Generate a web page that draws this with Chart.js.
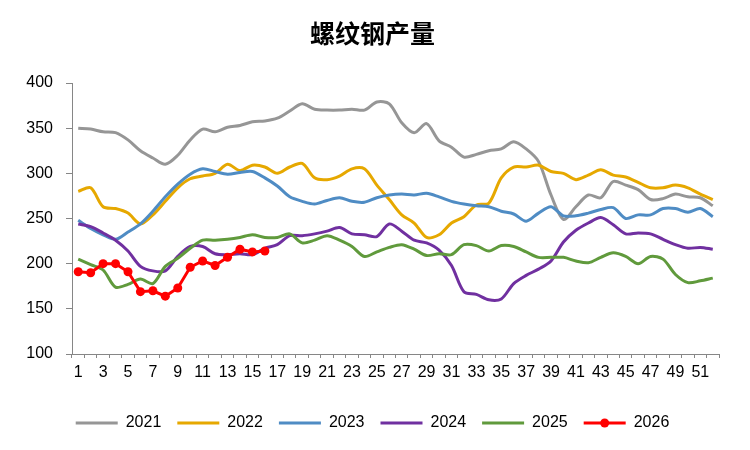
<!DOCTYPE html>
<html lang="zh">
<head>
  <meta charset="UTF-8">
  <title>螺纹钢产量</title>
  <script src="https://cdn.jsdelivr.net/npm/chart.js"></script>
  <style>
    html, body { margin: 0; padding: 0; background: #fff; }
    #wrap { width: 750px; height: 450px; }
  </style>
</head>
<body>
  <div id="wrap"><canvas id="chart" width="750" height="450"></canvas></div>
  <script>
    // 周次
    const weeks = [1, 2, 3, 4, 5, 6, 7, 8, 9, 10, 11, 12, 13, 14, 15, 16, 17, 18, 19, 20,
      21, 22, 23, 24, 25, 26, 27, 28, 29, 30, 31, 32, 33, 34, 35, 36, 37, 38, 39, 40,
      41, 42, 43, 44, 45, 46, 47, 48, 49, 50, 51, 52];

    // 各年产量（万吨）
    const y2021 = [350, 349, 346, 345, 337, 325, 317, 310, 320, 337, 349, 346, 351, 353, 357, 358, 361, 369,
      377, 371, 370, 370, 371, 370, 379, 377, 356, 345, 355, 336, 329, 318, 321, 325, 327, 335,
      327, 313, 276, 249, 263, 276, 273, 291, 287, 282, 271, 272, 277, 274, 273, 264];
    const y2022 = [280, 284, 263, 261, 256, 244, 254, 269, 284, 294, 297, 300, 310, 303, 309, 307, 300, 307,
      311, 295, 293, 297, 305, 305, 287, 271, 254, 245, 229, 232, 245, 252, 265, 267, 295, 307,
      307, 309, 302, 300, 293, 298, 304, 298, 296, 290, 284, 284, 287, 284, 277, 271];
    const y2023 = [248, 239, 232, 227, 235, 244, 258, 274, 288, 299, 305, 302, 299, 301, 302, 295, 286, 274,
      269, 266, 270, 273, 269, 268, 273, 276, 277, 276, 278, 274, 269, 266, 264, 263, 258, 255,
      247, 256, 263, 253, 253, 256, 260, 262, 250, 254, 254, 261, 261, 257, 261, 252];
    const y2024 = [244, 241, 234, 226, 214, 197, 192, 192, 208, 219, 219, 211, 210, 211, 210, 217, 221, 231,
      231, 233, 236, 240, 233, 232, 230, 244, 236, 226, 223, 215, 198, 169, 166, 160, 161, 178,
      187, 194, 203, 224, 237, 245, 251, 243, 233, 234, 233, 227, 221, 217, 218, 216];
    const y2025 = [205, 199, 193, 174, 177, 183, 178, 197, 206, 217, 226, 226, 227, 229, 232, 229, 229, 233,
      223, 226, 231, 226, 219, 208, 213, 218, 221, 216, 209, 211, 210, 221, 220, 214, 220, 219,
      213, 207, 207, 207, 203, 201, 207, 212, 208, 200, 208, 205, 188, 179, 181, 184];
    const y2026 = [191, 190, 200, 200, 191, 169, 170, 164, 173, 196, 203, 198, 207, 216, 213, 214];

    // Y轴刻度
    const yMin = 100;
    const yMax = 400;
    const yStep = 50;

    const years = ['2021', '2022', '2023', '2024', '2025', '2026'];
    const colors = ['#969696', '#E6A800', '#4F8CC4', '#7030A0', '#609A3C', '#FF0000'];
    const series = [y2021, y2022, y2023, y2024, y2025, y2026];

    const datasets = years.map((name, i) => {
      const isNew = name === '2026';
      return {
        label: name,
        data: series[i],
        borderColor: colors[i],
        backgroundColor: colors[i],
        borderWidth: 3,
        tension: isNew ? 0 : 0.3,
        pointRadius: isNew ? 4.5 : 0,
        pointBackgroundColor: colors[i],
        pointBorderWidth: 0,
        fill: false,
        order: 6 - i
      };
    });

    // 图例中2026的圆点
    const legendDot = {
      id: 'legendDot',
      afterDraw(chart) {
        const legend = chart.legend;
        if (!legend || !legend.legendHitBoxes) return;
        const idx = years.indexOf('2026');
        const box = legend.legendHitBoxes[idx];
        if (!box) return;
        const bw = legend.options.labels.boxWidth;
        const ctx = chart.ctx;
        ctx.save();
        ctx.fillStyle = colors[idx];
        ctx.beginPath();
        ctx.arc(box.left + bw / 2, box.top + box.height / 2, 4.5, 0, Math.PI * 2);
        ctx.fill();
        ctx.restore();
      }
    };

    const tickFont = { family: '"Liberation Sans", Arial, sans-serif', size: 16 };
    const axisGray = '#868686';

    new Chart(document.getElementById('chart').getContext('2d'), {
      type: 'line',
      data: { labels: weeks, datasets: datasets },
      plugins: [legendDot],
      options: {
        responsive: false,
        animation: false,
        layout: { padding: { left: 26, right: 31, top: 10, bottom: 9 } },
        plugins: {
          title: {
            display: true,
            text: '螺纹钢产量',
            color: '#000',
            font: { family: '"Noto Sans CJK SC", sans-serif', size: 25, weight: 'bold' },
            padding: { top: 8, bottom: 35 }
          },
          legend: {
            position: 'bottom',
            labels: {
              boxWidth: 42,
              boxHeight: 3,
              padding: 16,
              color: '#000',
              font: tickFont,
              generateLabels(chart) {
                const items = Chart.defaults.plugins.legend.labels.generateLabels(chart);
                items.sort((a, b) => a.datasetIndex - b.datasetIndex);
                items.forEach(it => { it.fillStyle = it.strokeStyle; it.lineWidth = 0; });
                return items;
              }
            }
          },
          tooltip: { enabled: false }
        },
        scales: {
          x: {
            offset: true,
            grid: { display: true, drawOnChartArea: false, offset: true, tickLength: 4, color: axisGray },
            border: { color: axisGray, width: 1 },
            afterFit(scale) { scale.height = 45; },
            ticks: {
              autoSkip: false,
              maxRotation: 0,
              padding: 5,
              color: '#000',
              font: tickFont,
              callback(value, index) { return index % 2 === 0 ? String(weeks[index]) : ''; }
            }
          },
          y: {
            min: yMin,
            max: yMax,
            grid: { display: true, drawOnChartArea: false, tickLength: 6, color: axisGray },
            border: { color: axisGray, width: 1 },
            afterFit(scale) { scale.width = 46; },
            ticks: { stepSize: yStep, color: '#000', font: tickFont, padding: 13 }
          }
        }
      }
    });
  </script>
</body>
</html>
